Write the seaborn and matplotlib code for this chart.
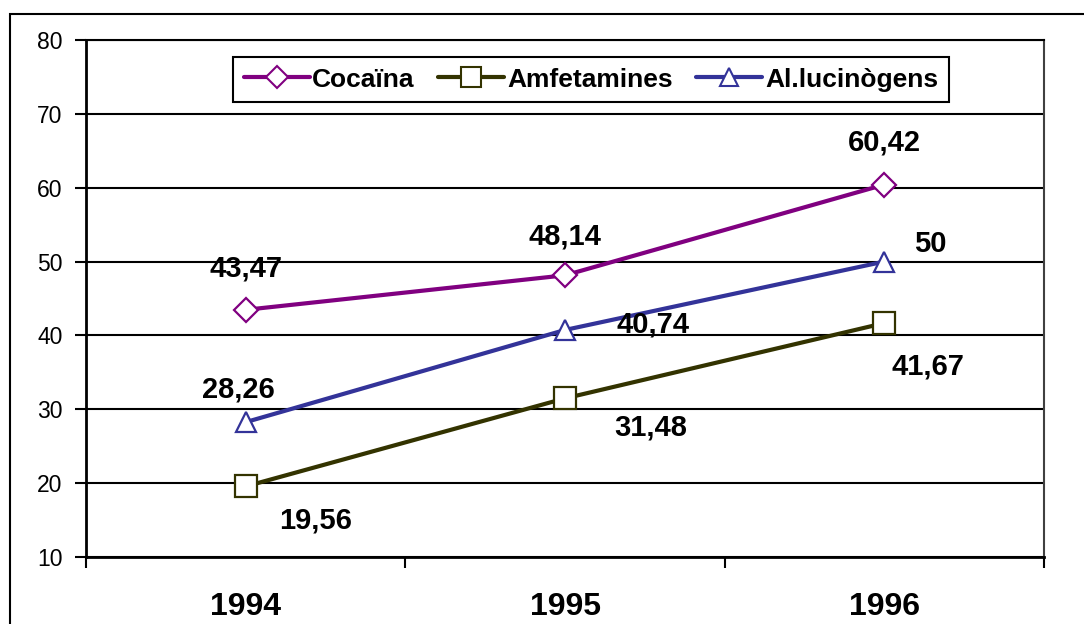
import matplotlib
matplotlib.use("Agg")
import matplotlib.pyplot as plt
from matplotlib.patches import Rectangle
from matplotlib.lines import Line2D
import seaborn as sns
import pandas as pd

# Data
years = ["1994", "1995", "1996"]
cocaina = [43.47, 48.14, 60.42]
amfetamines = [19.56, 31.48, 41.67]
allucinogens = [28.26, 40.74, 50]
series_names = ["Cocaïna", "Amfetamines", "Al.lucinògens"]
value_labels = {
    "Cocaïna": ["43,47", "48,14", "60,42"],
    "Amfetamines": ["19,56", "31,48", "41,67"],
    "Al.lucinògens": ["28,26", "40,74", "50"],
}

sns.set_theme(style="white")
plt.rcParams["font.family"] = ["Liberation Sans", "DejaVu Sans"]
plt.rcParams["text.color"] = "black"
plt.rcParams["xtick.color"] = "black"
plt.rcParams["ytick.color"] = "black"
plt.rcParams["xtick.labelcolor"] = "black"
plt.rcParams["ytick.labelcolor"] = "black"

colors = {"Cocaïna": "#800080", "Amfetamines": "#333300", "Al.lucinògens": "#333399"}
markers = {"Cocaïna": "D", "Amfetamines": "s", "Al.lucinògens": "^"}
msizes = {"Cocaïna": 12, "Amfetamines": 16, "Al.lucinògens": 15}

positions = [i + 0.5 for i in range(len(years))]
values = {"Cocaïna": cocaina, "Amfetamines": amfetamines, "Al.lucinògens": allucinogens}
df = pd.DataFrame(
    [(positions[i], name, values[name][i]) for name in series_names for i in range(len(years))],
    columns=["pos", "serie", "valor"],
)

fig = plt.figure(figsize=(10.84, 6.24), dpi=100)
ax = fig.add_axes([86 / 1084, 1 - 557 / 624, (1044 - 86) / 1084, (557 - 40) / 624])

for name in series_names:
    sub = df[df["serie"] == name]
    sns.lineplot(
        data=sub, x="pos", y="valor", ax=ax, color=colors[name], linewidth=3,
        marker=markers[name], markersize=msizes[name], markerfacecolor="white",
        markeredgecolor=colors[name], markeredgewidth=1.6, legend=False, zorder=3,
    )

# Value labels (pixel offsets from each point)
offsets = {
    "Cocaïna": [(0, 41), (0, 39), (0, 42)],
    "Amfetamines": [(70, -34), (86, -29), (44, -43)],
    "Al.lucinògens": [(-7, 33), (88, 5), (46, 18)],
}
for name in series_names:
    for i, lab in enumerate(value_labels[name]):
        ax.annotate(lab, (positions[i], values[name][i]), xytext=offsets[name][i],
                    textcoords="offset pixels", ha="center", va="center",
                    fontsize=21, fontweight="bold", color="black", zorder=5)

ax.set_xlim(0, 3)
ax.set_ylim(10, 80)
ax.set_yticks(range(10, 81, 10))
ax.yaxis.grid(True, color="black", linewidth=1.5)
ax.set_axisbelow(True)
ax.set_xticks([0, 1, 2, 3])
ax.set_xticklabels([])
ax.set_xticks(positions, minor=True)
ax.set_xticklabels(years, minor=True, fontsize=23, fontweight="bold")
ax.tick_params(axis="x", which="major", direction="out", length=8, width=1.5, color="black", bottom=True)
ax.tick_params(axis="x", which="minor", length=0, pad=25)
ax.tick_params(axis="y", direction="out", length=8, width=1.5, color="black", left=True,
               labelsize=16.5, pad=9)
ax.set_xlabel("")
ax.set_ylabel("")

for side in ["left", "bottom"]:
    ax.spines[side].set_color("black")
    ax.spines[side].set_linewidth(2)
ax.spines["top"].set_color("black")
ax.spines["top"].set_linewidth(1.5)
ax.spines["right"].set_color("#404040")
ax.spines["right"].set_linewidth(1.5)

# Legend
handles = [
    Line2D([0], [0], color=colors[n], linewidth=3, marker=markers[n], markersize=msizes[n] * 0.9,
           markerfacecolor="white", markeredgecolor=colors[n], markeredgewidth=1.5)
    for n in series_names
]
leg = ax.legend(handles, series_names, loc="upper center", bbox_to_anchor=(0.527, 0.967),
                ncol=3, frameon=True, fancybox=False, edgecolor="black", framealpha=1,
                prop={"size": 19, "weight": "bold"}, handlelength=2.5, handletextpad=0.1,
                columnspacing=0.9, borderpad=0.4, borderaxespad=0)
leg.get_frame().set_linewidth(1.5)
for t in leg.get_texts():
    t.set_color("black")

# Outer chart frame
fig.patches.append(Rectangle((10 / 1084, -0.1), 1.2, 1 - 14 / 624 + 0.1,
                             transform=fig.transFigure, fill=False, edgecolor="black",
                             linewidth=1.5, clip_on=False))

fig.savefig("out.png", dpi=100)
